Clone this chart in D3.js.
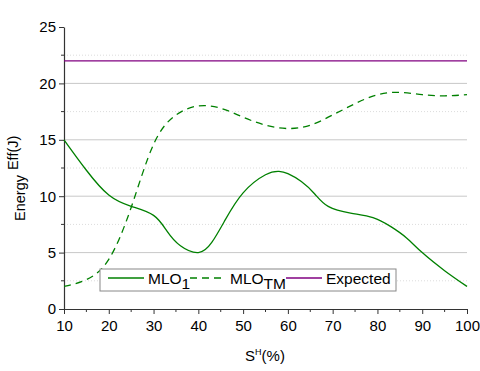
<!DOCTYPE html>
<html>
<head>
<meta charset="utf-8">
<script src="https://cdn.jsdelivr.net/npm/d3@7"></script>
<style>
  body { margin: 0; background: #fff; }
  text { font-family: "Liberation Sans", Arial, sans-serif; }
</style>
</head>
<body>
<svg width="480" height="371"></svg>
<script>
// data
const xs = [10, 15, 20, 25, 30, 33, 36, 40, 43, 46, 50, 55, 58, 60, 63, 66, 69, 74, 79, 83, 86.5, 90, 95, 100];
const mlo1 = [15, 12.3, 10.1, 9.1, 8.3, 6.9, 5.6, 5, 5.9, 7.9, 10.3, 11.9, 12.2, 12, 11.3, 10.2, 9.1, 8.5, 8.1, 7.3, 6.3, 5, 3.4, 2];
const tmX = [10, 15, 20, 25, 30, 35, 40, 45, 50, 55, 60, 65, 70, 75, 80, 85, 90, 95, 100];
const mloTM = [2, 2.6, 4.4, 9, 14.6, 17.2, 18, 17.8, 17, 16.3, 16, 16.3, 17.2, 18.2, 19, 19.2, 19, 18.9, 19];
const expectedX = [10, 100];
const expected = [22, 22];
const xTicks = [10, 20, 30, 40, 50, 60, 70, 80, 90, 100];
const yTicks = [0, 5, 10, 15, 20, 25];

let svg = d3.select("svg");
const plotLeft = 64, plotRight = 467, plotTop = 27, plotBottom = 309;

const x = d3.scaleLinear().domain([10, 100]).range([plotLeft, plotRight]);
const y = d3.scaleLinear().domain([0, 25]).range([plotBottom, plotTop]);

const g = svg.append("g");

// grid: minor dotted, major solid
g.selectAll(".minor").data([2.5, 7.5, 12.5, 17.5, 22.5]).enter()
  .append("line")
    .attr("x1", plotLeft).attr("x2", plotRight)
    .attr("y1", d => y(d)).attr("y2", d => y(d))
    .attr("stroke", "#dcdcdc").attr("stroke-width", 1).attr("stroke-dasharray", "1,2");
g.selectAll(".major").data([5, 10, 15, 20]).enter()
  .append("line")
    .attr("x1", plotLeft).attr("x2", plotRight)
    .attr("y1", d => y(d)).attr("y2", d => y(d))
    .attr("stroke", "#c8c8c8").attr("stroke-width", 1);

// axes
const xAxis = d3.axisBottom(x).tickValues(xTicks).tickSize(5).tickSizeOuter(0);
const yAxis = d3.axisLeft(y).tickValues(yTicks).tickSize(5).tickSizeOuter(0);

const gx = svg.append("g").attr("transform", `translate(0,${plotBottom})`).call(xAxis);
gx.selectAll("text").attr("font-size", 15).attr("fill", "#000").attr("dy", "0.9em");
gx.selectAll("line").attr("stroke", "#333");
gx.select(".domain").attr("stroke", "#333").attr("stroke-width", 1.2);
gx.selectAll(".mtick").data(d3.range(15, 100, 10)).enter()
  .append("line").attr("x1", d => x(d)).attr("x2", d => x(d))
  .attr("y1", 0).attr("y2", 3).attr("stroke", "#333");

const gy = svg.append("g").attr("transform", `translate(${plotLeft},0)`).call(yAxis);
gy.selectAll("text").attr("font-size", 15).attr("fill", "#000");
gy.selectAll("line").attr("stroke", "#333");
gy.select(".domain").attr("stroke", "#333").attr("stroke-width", 1.2);
gy.selectAll(".mtick").data(d3.range(2.5, 25, 5)).enter()
  .append("line").attr("y1", d => y(d)).attr("y2", d => y(d))
  .attr("x1", 0).attr("x2", -3).attr("stroke", "#333");

// lines
const line = d3.line().x(d => x(d[0])).y(d => y(d[1])).curve(d3.curveNatural);

svg.append("path")
  .attr("d", line(expectedX.map((d, i) => [d, expected[i]])))
  .attr("fill", "none").attr("stroke", "#800080").attr("stroke-width", 1.3);
svg.append("path")
  .attr("d", line(tmX.map((d, i) => [d, mloTM[i]])))
  .attr("fill", "none").attr("stroke", "#008000").attr("stroke-width", 1.3)
  .attr("stroke-dasharray", "7,5");
svg.append("path")
  .attr("d", line(xs.map((d, i) => [d, mlo1[i]])))
  .attr("fill", "none").attr("stroke", "#008000").attr("stroke-width", 1.3);

// legend
const lg = svg.append("g");
lg.append("rect").attr("x", 100).attr("y", 269).attr("width", 296).attr("height", 22)
  .attr("fill", "#fff").attr("stroke", "#888").attr("stroke-width", 1);
lg.append("line").attr("x1", 108).attr("x2", 144).attr("y1", 278).attr("y2", 278)
  .attr("stroke", "#008000").attr("stroke-width", 1.3);
let t1 = lg.append("text").attr("x", 148).attr("y", 284).attr("font-size", 15.5);
t1.append("tspan").text("MLO");
t1.append("tspan").attr("dy", 5).text("1");
lg.append("line").attr("x1", 190).attr("x2", 226).attr("y1", 278).attr("y2", 278)
  .attr("stroke", "#008000").attr("stroke-width", 1.3).attr("stroke-dasharray", "7,5");
let t2 = lg.append("text").attr("x", 230).attr("y", 284).attr("font-size", 15.5);
t2.append("tspan").text("MLO");
t2.append("tspan").attr("dy", 5).text("TM");
lg.append("line").attr("x1", 286).attr("x2", 322).attr("y1", 278).attr("y2", 278)
  .attr("stroke", "#800080").attr("stroke-width", 1.3);
lg.append("text").attr("x", 326).attr("y", 284).attr("font-size", 15.5).text("Expected");

// axis titles
let xt = svg.append("text").attr("x", 265).attr("y", 361).attr("text-anchor", "middle").attr("font-size", 15);
xt.append("tspan").text("S");
xt.append("tspan").attr("dy", -6).attr("font-size", 9).text("H");
xt.append("tspan").attr("dy", 6).text("(%)");

let yt = svg.append("text").attr("transform", "translate(25,221) rotate(-90)").attr("font-size", 14.5);
yt.append("tspan").text("Energy");
yt.append("tspan").attr("dy", -7).attr("dx", 5).text("Eff(J)");
</script>
</body>
</html>
